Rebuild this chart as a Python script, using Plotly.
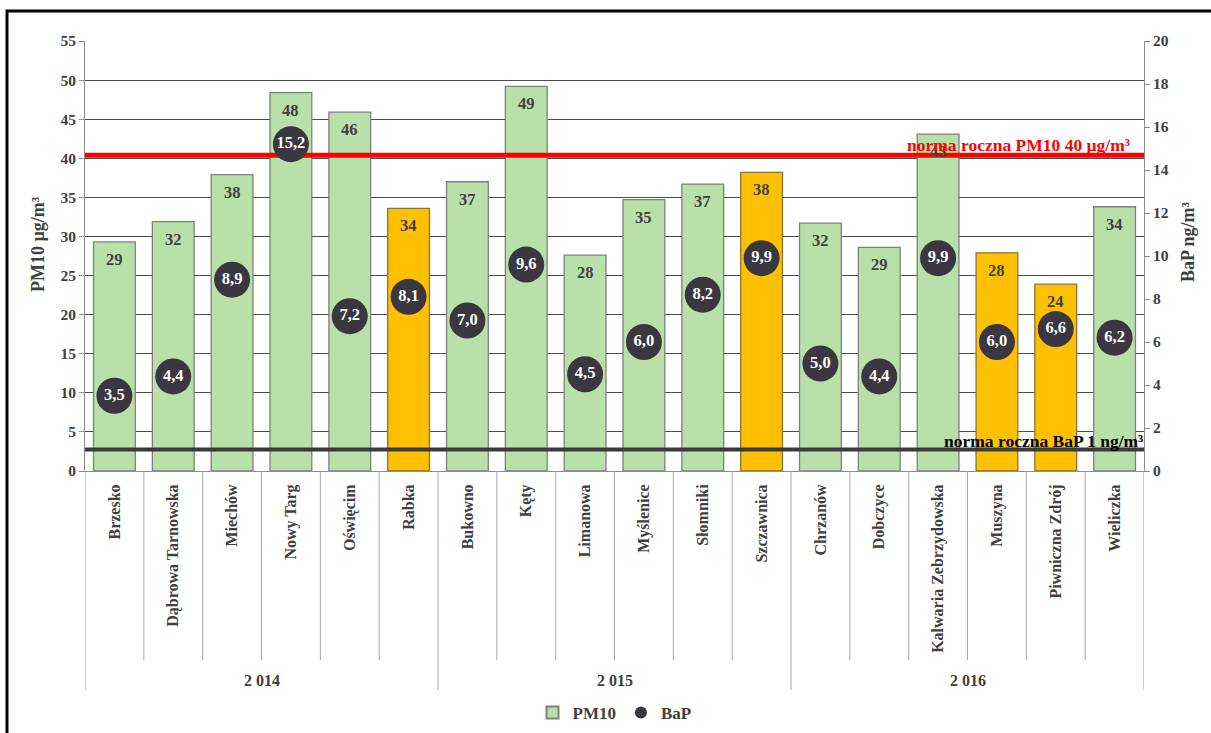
import plotly.graph_objects as go

# ---- data ----
years = ["2 014", "2 015", "2 016"]
stations_2014 = ["Brzesko", "Dąbrowa Tarnowska", "Miechów", "Nowy Targ", "Oświęcim", "Rabka"]
stations_2015 = ["Bukowno", "Kęty", "Limanowa", "Myślenice", "Słomniki", "Szczawnica"]
stations_2016 = ["Chrzanów", "Dobczyce", "Kalwaria Zebrzydowska", "Muszyna", "Piwniczna Zdrój", "Wieliczka"]
pm10 = [29.3, 31.9, 37.9, 48.4, 45.9, 33.6,
        37.0, 49.2, 27.6, 34.7, 36.7, 38.2,
        31.7, 28.6, 43.1, 27.9, 23.9, 33.8]
bap = [3.5, 4.4, 8.9, 15.2, 7.2, 8.1,
       7.0, 9.6, 4.5, 6.0, 8.2, 9.9,
       5.0, 4.4, 9.9, 6.0, 6.6, 6.2]
spa_stations = ["Rabka", "Szczawnica", "Muszyna", "Piwniczna Zdrój"]
norm_pm10 = 40.4
norm_bap = 1.0
pm10_ticks = list(range(0, 56, 5))
bap_ticks = list(range(0, 21, 2))

groups = [stations_2014, stations_2015, stations_2016]
stations = stations_2014 + stations_2015 + stations_2016

GREEN = "#B8E0A8"
ORANGE = "#FFC000"
DARK = "#404040"
FONT = "Liberation Serif"

bar_colors = [ORANGE if s in spa_stations else GREEN for s in stations]
bar_lines = ["#8A7430" if s in spa_stations else "#7F7F7F" for s in stations]

fig = go.Figure()
fig.add_trace(go.Bar(
    x=stations, y=pm10, name="PM10",
    marker=dict(color=bar_colors, line=dict(color=bar_lines, width=1.3)),
    hoverinfo="x+y",
))
fig.add_trace(go.Scatter(
    x=[0, 1], y=[norm_pm10, norm_pm10], xaxis="x2", yaxis="y",
    mode="lines", line=dict(color="#FF0000", width=5),
    showlegend=False, hoverinfo="skip",
))
fig.add_trace(go.Scatter(
    x=[0, 1], y=[norm_bap, norm_bap], xaxis="x2", yaxis="y2",
    mode="lines", line=dict(color="#3A3A3A", width=4),
    showlegend=False, hoverinfo="skip",
))
fig.add_trace(go.Scatter(
    x=stations, y=bap, name="BaP", xaxis="x3", yaxis="y2",
    mode="markers+text",
    marker=dict(size=36, color="#3B3740", line=dict(width=0)),
    texttemplate="%{y:.1f}", textposition="middle center",
    textfont=dict(family=FONT, size=16.5, color="white", weight="bold"),
    cliponaxis=False,
))

# plot area in pixels
L, R, T, B = 85, 1144, 41, 471
W, H = 1211, 733
def px(xp):
    return (xp - L) / (R - L)
def py(yp):
    return (B - yp) / (B - T)

shapes = []
# category dividers
n = len(stations)
group_bounds = [0]
for g in groups:
    group_bounds.append(group_bounds[-1] + len(g))
for b in range(n + 1):
    long = b in group_bounds
    shapes.append(dict(type="line", xref="x", yref="paper",
                       x0=b - 0.5, x1=b - 0.5, y0=0, y1=py(690 if long else 660),
                       line=dict(color="#A6A6A6", width=1)))
# outer frame
shapes.append(dict(type="rect", xref="paper", yref="paper",
                   x0=px(7), x1=px(1216), y0=py(740), y1=py(11),
                   line=dict(color="black", width=3), fillcolor="rgba(0,0,0,0)"))

annotations = []
# PM10 value labels inside the top of each bar
for s, v in zip(stations, pm10):
    annotations.append(dict(x=s, y=v, xref="x", yref="y", text=f"{v:.0f}",
                            showarrow=False, xanchor="center", yanchor="top", yshift=-6,
                            font=dict(family=FONT, size=16.5, color=DARK, weight="bold")))
start = 0
for yr, g in zip(years, groups):
    annotations.append(dict(x=start + (len(g) - 1) / 2, y=py(680), xref="x", yref="paper",
                            text=yr, showarrow=False, xanchor="center", yanchor="middle",
                            font=dict(family=FONT, size=16, color=DARK, weight="bold")))
    start += len(g)
annotations.append(dict(x=px(38), y=py(244), xref="paper", yref="paper", text="PM10 µg/m³",
                        textangle=-90, showarrow=False, xanchor="center", yanchor="middle",
                        font=dict(family=FONT, size=18, color=DARK, weight="bold")))
annotations.append(dict(x=px(1188), y=py(242), xref="paper", yref="paper", text="BaP ng/m³",
                        textangle=-90, showarrow=False, xanchor="center", yanchor="middle",
                        font=dict(family=FONT, size=18, color=DARK, weight="bold")))
annotations.append(dict(x=px(1132), y=py(145), xref="paper", yref="paper",
                        text="norma roczna PM10 40 µg/m³", showarrow=False,
                        xanchor="right", yanchor="middle",
                        font=dict(family=FONT, size=17.5, color="#FF0000", weight="bold")))
annotations.append(dict(x=px(1145), y=py(441), xref="paper", yref="paper",
                        text="norma roczna BaP 1 ng/m³", showarrow=False,
                        xanchor="right", yanchor="middle",
                        font=dict(family=FONT, size=17.5, color="#000000", weight="bold")))

axis_font = dict(family=FONT, size=15.5, color=DARK, weight="bold")
fig.update_layout(
    width=W, height=H,
    margin=dict(l=L, r=W - R, t=T, b=H - B, autoexpand=False),
    paper_bgcolor="white", plot_bgcolor="white",
    separators=", ",
    bargap=0.29,
    font=dict(family=FONT, color=DARK, size=15),
    xaxis=dict(type="category", categoryorder="array", categoryarray=stations,
               range=[-0.5, n - 0.5], tickangle=-90, ticks="",
               tickfont=dict(family=FONT, size=16, color=DARK, weight="bold"),
               showline=True, linecolor="#8C8C8C", showgrid=False, zeroline=False,
               ticklabelstandoff=6),
    xaxis2=dict(overlaying="x", range=[0, 1], visible=False, type="linear"),
    xaxis3=dict(overlaying="x", type="category", categoryorder="array", categoryarray=stations,
                range=[-0.5, n - 0.5], visible=False),
    yaxis=dict(range=[0, 55], tickvals=pm10_ticks, showgrid=True, gridcolor="#4D4D4D", gridwidth=1,
               ticks="outside", ticklen=5, tickcolor="#8C8C8C", showline=True, linecolor="#8C8C8C",
               zeroline=False, tickfont=axis_font),
    yaxis2=dict(overlaying="y", side="right", range=[0, 20], tickvals=bap_ticks, showgrid=False,
                ticks="outside", ticklen=5, tickcolor="#8C8C8C", showline=True, linecolor="#8C8C8C",
                zeroline=False, tickfont=axis_font),
    legend=dict(orientation="h", x=0.5, xanchor="center", y=py(713), yanchor="middle",
                itemsizing="constant", font=dict(family=FONT, size=17, color=DARK, weight="bold"),
                bgcolor="rgba(0,0,0,0)", traceorder="normal", itemwidth=30),
    shapes=shapes,
    annotations=annotations,
    showlegend=True,
)

fig.write_html("out.html", post_script="document.body.style.margin='0';",
               config={"displayModeBar": False})
